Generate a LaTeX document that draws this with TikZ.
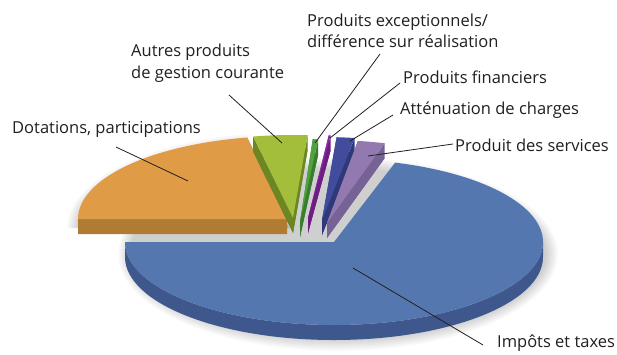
\documentclass[tikz,border=0pt]{standalone}
\usepackage{fontspec}
\setmainfont{Open Sans}
\definecolor{txt}{RGB}{35,31,32}
\definecolor{bluT}{RGB}{85,119,176}
\definecolor{bluS}{RGB}{62,87,140}
\definecolor{oraT}{RGB}{224,155,70}
\definecolor{oraS}{RGB}{176,124,52}
\definecolor{grnT}{RGB}{162,190,58}
\definecolor{grnS}{RGB}{108,134,36}
\definecolor{sgrT}{RGB}{80,162,62}
\definecolor{sgrS}{RGB}{55,125,45}
\definecolor{purT}{RGB}{140,40,160}
\definecolor{purS}{RGB}{110,30,130}
\definecolor{dblT}{RGB}{66,76,156}
\definecolor{dblS}{RGB}{46,56,122}
\definecolor{srvT}{RGB}{146,121,176}
\definecolor{srvS}{RGB}{118,98,148}
% #1 vx, #2 vy (pixels, down), #3 start angle, #4 end angle, #5 top colour, #6 side colour
\newcommand\drawslice[6]{%
  \fill[#6] (#1,-#2-15) -- ++(#3:209 and 83) arc[start angle=#3,end angle=#4,x radius=209,y radius=83] -- cycle;
  \fill[#6] (#1,-#2) -- ++(#3:209 and 83) -- ++(0,-15) -- (#1,-#2-15) -- cycle;
  \fill[#6] (#1,-#2) -- ++(#4:209 and 83) -- ++(0,-15) -- (#1,-#2-15) -- cycle;
  \fill[#5] (#1,-#2) -- ++(#3:209 and 83) arc[start angle=#3,end angle=#4,x radius=209,y radius=83] -- cycle;
}
\begin{document}
\begin{tikzpicture}[x=1pt,y=1pt,
  lbl/.style={font=\fontsize{16.5}{21.5}\selectfont, text=txt, anchor=west, inner sep=0pt, align=left},
  leader/.style={draw=txt, line width=0.8pt}]
\useasboundingbox (0,0) rectangle (617,-354);
\fill[white] (0,0) rectangle (617,-354);
% soft shadows
\foreach \k in {1,...,8}{
  \fill[black,opacity=0.022] (338,-254) ellipse[x radius=207+\k*1.6, y radius=84+\k*1.6];
  \fill[black,opacity=0.022] (289,-228) -- ++(101:209+\k*1.6 and 83+\k*1.6) arc[start angle=101,end angle=180,x radius=209+\k*1.6,y radius=83+\k*1.6] -- cycle;
}
% back slices
\drawslice{287}{219}{101}{180}{oraT}{oraS}
\drawslice{293}{218}{86}{101}{grnT}{grnS}
\drawslice{300}{222}{85}{86.5}{sgrT}{sgrS}
\drawslice{308}{218}{83.8}{84.3}{purT}{purS}
\drawslice{322}{220}{81}{86}{dblT}{dblS}
\drawslice{327}{223}{74}{81.5}{srvT}{srvS}
% main slice
\fill[bluS] (125,-242) arc[start angle=180,end angle=360,x radius=209,y radius=83] -- ++(0,-15)
  arc[start angle=360,end angle=180,x radius=209,y radius=83] -- cycle;
\fill[bluT] (334,-242) -- (125,-242) arc[start angle=180,end angle=433,x radius=209,y radius=83] -- cycle;
% labels
\node[lbl] (exc) at (307,-31) {Produits exceptionnels/\\différence sur réalisation};
\node[lbl] (fin) at (403,-77) {Produits financiers};
\node[lbl] (att) at (400,-110) {Atténuation de charges};
\node[lbl] (srv) at (455,-145) {Produit des services};
\node[lbl] (aut) at (131,-63) {Autres produits\\de gestion courante};
\node[lbl] (dot) at (12,-129) {Dotations, participations};
\node[lbl] (imp) at (497,-343) {Impôts et taxes};
% leader ends
\coordinate (excA) at (380,-54);  \coordinate (excB) at (315,-143);
\coordinate (finA) at (400,-83);  \coordinate (finB) at (330,-138);
\coordinate (attA) at (393,-115); \coordinate (attB) at (350,-141);
\coordinate (srvA) at (453,-144); \coordinate (srvB) at (368,-156);
\coordinate (autA) at (229,-95);  \coordinate (autB) at (282,-143);
\coordinate (dotA) at (116,-147); \coordinate (dotB) at (188,-181);
\coordinate (impA) at (483,-345); \coordinate (impB) at (353,-268);
\draw[leader] (excA) -- (excB);
\draw[leader] (finA) -- (finB);
\draw[leader] (attA) -- (attB);
\draw[leader] (srvA) -- (srvB);
\draw[leader] (autA) -- (autB);
\draw[leader] (dotA) -- (dotB);
\draw[leader] (impA) -- (impB);
\end{tikzpicture}
\end{document}
